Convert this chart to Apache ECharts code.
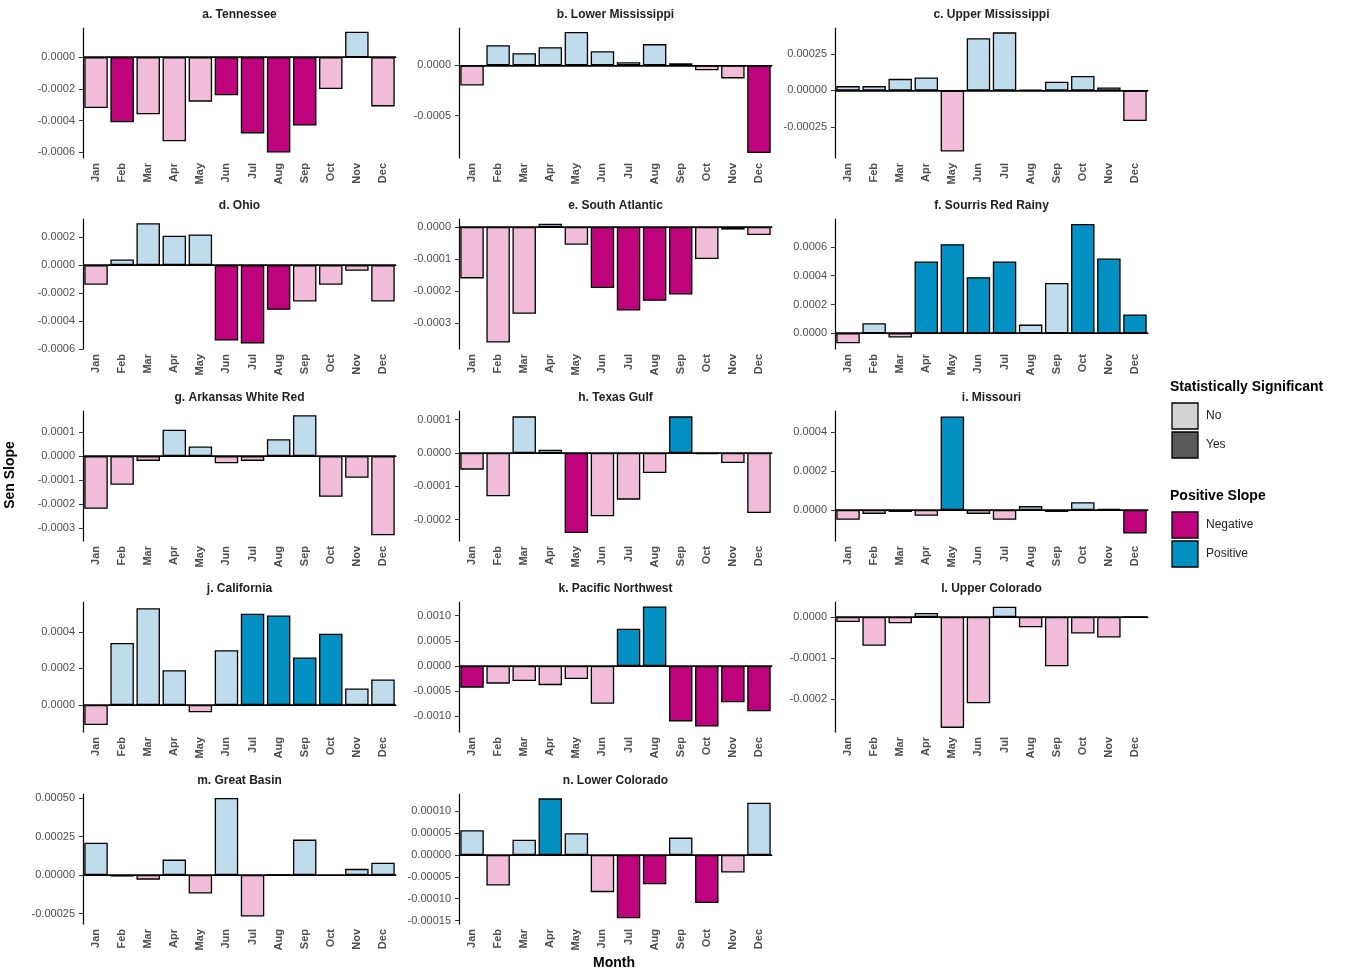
<!DOCTYPE html>
<html><head><meta charset="utf-8">
<script src="https://cdn.jsdelivr.net/npm/echarts@6/dist/echarts.min.js"></script>
<style>html,body{margin:0;padding:0;background:#fff}#c{width:1346px;height:971px}</style>
</head><body><div id="c"></div>
<script>
const months = ['Jan','Feb','Mar','Apr','May','Jun','Jul','Aug','Sep','Oct','Nov','Dec'];
const titles = ['a. Tennessee','b. Lower Mississippi','c. Upper Mississippi','d. Ohio','e. South Atlantic','f. Sourris Red Rainy','g. Arkansas White Red','h. Texas Gulf','i. Missouri','j. California','k. Pacific Northwest','l. Upper Colorado','m. Great Basin','n. Lower Colorado'];
const tennessee = [-0.00032,-0.00041,-0.00036,-0.00053,-0.00028,-0.00024,-0.00048,-0.0006,-0.00043,-0.0002,0.00016,-0.00031];
const tennesseeSig = [0,1,0,0,0,1,1,1,1,0,0,0];
const lowerMiss = [-0.0002,0.0002,0.00012,0.00018,0.00033,0.00014,0.00003,0.00021,0.00002,-0.00005,-0.00013,-0.00087];
const lowerMissSig = [0,0,0,0,0,0,0,0,0,0,0,1];
const upperMiss = [0.00003,0.00003,0.00008,0.00009,-0.00042,0.00036,0.0004,0.000005,0.00006,0.0001,0.00002,-0.00021];
const upperMissSig = [0,0,0,0,0,0,0,0,0,0,0,0];
const ohio = [-0.00014,0.00004,0.0003,0.00021,0.00022,-0.00054,-0.00056,-0.00032,-0.00026,-0.00014,-0.00004,-0.00026];
const ohioSig = [0,0,0,0,0,1,1,1,0,0,0,0];
const southAtl = [-0.00016,-0.00036,-0.00027,0.00001,-0.000055,-0.00019,-0.00026,-0.00023,-0.00021,-0.0001,-0.000008,-0.000025];
const southAtlSig = [0,0,0,0,0,1,1,1,1,0,0,0];
const sourris = [-0.00007,0.00007,-0.00003,0.0005,0.00062,0.00039,0.0005,0.00006,0.00035,0.00076,0.00052,0.00013];
const sourrisSig = [0,0,0,1,1,1,1,0,0,1,1,1];
const arkansas = [-0.00022,-0.00012,-0.00002,0.00011,0.00004,-0.00003,-0.00002,0.00007,0.00017,-0.00017,-0.00009,-0.00033];
const arkansasSig = [0,0,0,0,0,0,0,0,0,0,0,0];
const texas = [-0.00005,-0.00013,0.00011,0.00001,-0.00024,-0.00019,-0.00014,-0.00006,0.00011,-0.000003,-0.00003,-0.00018];
const texasSig = [0,0,0,0,1,0,0,0,1,0,0,0];
const missouri = [-0.00005,-0.00002,-0.00001,-0.00003,0.00048,-0.00002,-0.00005,0.00002,-0.00001,0.00004,0.000005,-0.00012];
const missouriSig = [0,0,0,0,1,0,0,0,0,0,0,1];
const california = [-0.00011,0.00034,0.00053,0.00019,-0.00004,0.0003,0.0005,0.00049,0.00026,0.00039,0.00009,0.00014];
const californiaSig = [0,0,0,0,0,0,1,1,1,1,0,0];
const pacific = [-0.00043,-0.00035,-0.0003,-0.00038,-0.00026,-0.00075,0.00074,0.00118,-0.0011,-0.0012,-0.00072,-0.0009];
const pacificSig = [1,0,0,0,0,0,1,1,1,1,1,1];
const upperCol = [-0.000012,-0.00007,-0.000015,0.00001,-0.00027,-0.00021,0.000025,-0.000025,-0.00012,-0.00004,-0.00005,0];
const upperColSig = [0,0,0,0,0,0,0,0,0,0,0,0];
const greatBasin = [0.00021,-0.00001,-0.00003,0.0001,-0.00012,0.0005,-0.00027,0,0.00023,-0.000005,0.00004,0.00008];
const greatBasinSig = [0,0,0,0,0,0,0,0,0,0,0,0];
const lowerCol = [0.000057,-0.00007,0.000035,0.00013,0.00005,-0.000085,-0.000145,-0.000067,0.00004,-0.00011,-0.00004,0.00012];
const lowerColSig = [0,0,0,1,0,0,1,1,0,1,0,0];
const yTicks = [
 [-0.0006,-0.0004,-0.0002,0],[-0.0005,0],[-0.00025,0,0.00025],[-0.0006,-0.0004,-0.0002,0,0.0002],
 [-0.0003,-0.0002,-0.0001,0],[0,0.0002,0.0004,0.0006],[-0.0003,-0.0002,-0.0001,0,0.0001],[-0.0002,-0.0001,0,0.0001],
 [0,0.0002,0.0004],[0,0.0002,0.0004],[-0.001,-0.0005,0,0.0005,0.001],[-0.0002,-0.0001,0],
 [-0.00025,0,0.00025,0.0005],[-0.00015,-0.0001,-0.00005,0,0.00005,0.0001]];
const yDecimals = [4,4,5,4,4,4,4,4,4,4,4,4,5,5];

const values = [tennessee,lowerMiss,upperMiss,ohio,southAtl,sourris,arkansas,texas,missouri,california,pacific,upperCol,greatBasin,lowerCol];
const sigs = [tennesseeSig,lowerMissSig,upperMissSig,ohioSig,southAtlSig,sourrisSig,arkansasSig,texasSig,missouriSig,californiaSig,pacificSig,upperColSig,greatBasinSig,lowerColSig];
const ranges = [[-0.000635,0.000184],[-0.00092,0.00037],[-0.000465,0.00043],[-0.0006,0.00033],[-0.00038,0.000025],[-0.00011,0.000795],[-0.000354,0.000188],[-0.000264,0.000126],[-0.000159,0.000508],[-0.000148,0.000564],[-0.00131,0.00127],[-0.00028,0.0000366],[-0.000318,0.000526],[-0.000158,0.00014]];
const colLeft = [83,459,835], rowTop = [28,219,411,602,794], W = 313, H = 130;
function color(v,s){ if(v>=0) return s?'#0390c2':'#bfdcec'; return s?'#bf037c':'#f0bcd8'; }
const grid=[],xAxis=[],yAxis=[],series=[],graphic=[];
values.forEach((vals,i)=>{
  const c=i%3, r=Math.floor(i/3);
  grid.push({left:colLeft[c],top:rowTop[r],width:W,height:H});
  xAxis.push({type:'category',gridIndex:i,data:months,axisLine:{lineStyle:{color:'#000',width:1.2}},axisTick:{length:4,lineStyle:{color:'#333'}},
    axisLabel:{rotate:90,fontSize:11,fontWeight:'bold',color:'#4d4d4d',fontFamily:'Liberation Sans',margin:5}});
  const d=yDecimals[i];
  yAxis.push({type:'value',gridIndex:i,min:ranges[i][0],max:ranges[i][1],splitLine:{show:false},
    axisLine:{show:true,lineStyle:{color:'#000',width:1.2}},
    axisTick:{show:true,length:4,customValues:yTicks[i],lineStyle:{color:'#333'}},
    axisLabel:{customValues:yTicks[i],fontSize:11,color:'#4d4d4d',fontFamily:'Liberation Sans',formatter:v=>(Math.abs(v)<1e-12?0:v).toFixed(d)}});
  series.push({type:'bar',xAxisIndex:i,yAxisIndex:i,barCategoryGap:'10%',
    data:vals.map((v,k)=>({value:v,itemStyle:{color:color(v,sigs[i][k]),borderColor:'#000',borderWidth:1.3}})),
    markLine:{silent:true,symbol:'none',label:{show:false},lineStyle:{color:'#000',width:1.5,type:'solid'},data:[{yAxis:0}]}});
  graphic.push({type:'text',left:colLeft[c]+W/2-80,top:rowTop[r]-20,style:{text:titles[i],width:160,align:'center',fontSize:12,fontWeight:'bold',fill:'#222',fontFamily:'Liberation Sans'}});
});
// overwrite titles centered properly
graphic.length=0;
values.forEach((v,i)=>{const c=i%3,r=Math.floor(i/3);
  graphic.push({type:'text',x:colLeft[c]+W/2,y:rowTop[r]-19,style:{text:titles[i],textAlign:'center',fontSize:12,fontWeight:'bold',fill:'#222',fontFamily:'Liberation Sans'}});});
graphic.push({type:'text',x:10,y:475,rotation:Math.PI/2,style:{text:'Sen Slope',textAlign:'center',textVerticalAlign:'middle',fontSize:14,fontWeight:'bold',fill:'#000',fontFamily:'Liberation Sans'}});
graphic.push({type:'text',x:614,y:956,style:{text:'Month',textAlign:'center',fontSize:14,fontWeight:'bold',fill:'#000',fontFamily:'Liberation Sans'}});
const leg=[['Statistically Significant',380,[['No','#d3d3d3',403],['Yes','#595959',432]]],['Positive Slope',489,[['Negative','#bf037c',512],['Positive','#0390c2',541]]]];
leg.forEach(([t,y,items])=>{
  graphic.push({type:'text',x:1170,y:y,style:{text:t,fontSize:14,fontWeight:'bold',fill:'#000',fontFamily:'Liberation Sans'}});
  items.forEach(([lab,col,yy])=>{
    graphic.push({type:'rect',shape:{x:1172,y:yy,width:26,height:26},style:{fill:col,stroke:'#000',lineWidth:1.3}});
    graphic.push({type:'text',x:1206,y:yy+7,style:{text:lab,fontSize:12,fill:'#222',fontFamily:'Liberation Sans'}});
  });
});
const chart=echarts.init(document.getElementById('c'),null,{renderer:'canvas'});
chart.setOption({animation:false,backgroundColor:'#fff',grid,xAxis,yAxis,series,graphic});
</script></body></html>
